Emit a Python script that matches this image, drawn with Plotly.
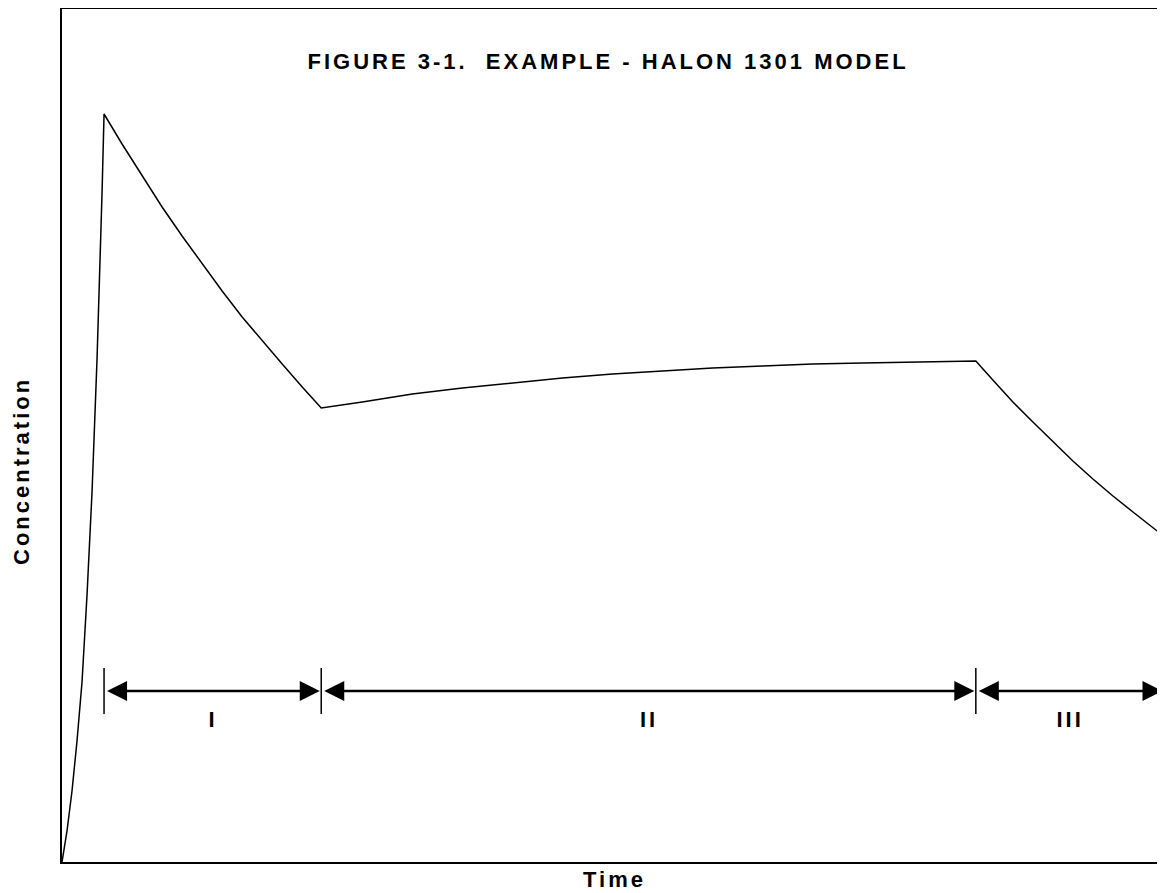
import plotly.graph_objects as go

# time (arbitrary units) and concentration (arbitrary units)
time = [0, 0.5, 1.0, 1.5, 2.0, 2.5, 3.0, 3.5, 4.0, 4.2,
        6, 8, 10, 12, 14, 16, 18, 20, 22, 24, 25.9,
        30, 35, 40, 45, 50, 55, 60, 65, 70, 75, 80, 85, 91.3,
        93, 95, 97, 99, 101, 103, 105, 107, 109, 110.3]
concentration = [0, 0.31, 0.71, 1.21, 1.80, 2.67, 3.70, 5.03, 6.69, 7.48,
                 7.18, 6.86, 6.55, 6.26, 5.98, 5.71, 5.45, 5.21, 4.98, 4.75, 4.54,
                 4.60, 4.68, 4.74, 4.79, 4.84, 4.88, 4.91, 4.94, 4.96, 4.98, 4.99, 5.00, 5.01,
                 4.82, 4.60, 4.40, 4.20, 4.01, 3.83, 3.66, 3.50, 3.34, 3.24]

phase_bounds = [4.2, 25.9, 91.3, 110.1]
phase_labels = ['I', 'II', 'III']
arrow_level = 1.71
label_level = 1.43
tick_half = 0.23

fig = go.Figure()
fig.add_trace(go.Scatter(x=time, y=concentration, mode='lines',
                         line=dict(color='black', width=1.5), hoverinfo='skip',
                         showlegend=False))

for i, lab in enumerate(phase_labels):
    x0, x1 = phase_bounds[i], phase_bounds[i + 1]
    fig.add_annotation(x=x1 - 0.15, y=arrow_level, ax=x0 + 0.15, ay=arrow_level,
                       xref='x', yref='y', axref='x', ayref='y', text='',
                       showarrow=True, arrowside='end+start', arrowhead=2,
                       startarrowhead=2, arrowsize=1.6, startarrowsize=1.6,
                       arrowwidth=2.5, arrowcolor='black')
    fig.add_annotation(x=(x0 + x1) / 2, y=label_level, text='<b>' + lab + '</b>',
                       showarrow=False, xanchor='center', yanchor='middle',
                       font=dict(size=22, color='black'))

for b in phase_bounds:
    fig.add_shape(type='line', x0=b, x1=b, y0=arrow_level - tick_half,
                  y1=arrow_level + tick_half, line=dict(color='black', width=1.5))

# title and axis titles as annotations so they sit where the original has them
fig.add_annotation(x=0.495, y=0.939, xref='paper', yref='paper',
                   text='<b>FIGURE 3-1.  EXAMPLE - HALON 1301 MODEL</b>',
                   xanchor='center', yanchor='middle',
                   showarrow=False, font=dict(size=22, color='black'))
fig.add_annotation(x=0.5, y=-0.02, xref='paper', yref='paper', text='<b>Time</b>',
                   xanchor='center', yanchor='middle',
                   showarrow=False, font=dict(size=22, color='black'))
fig.add_annotation(x=-0.037, y=0.458, xref='paper', yref='paper',
                   text='<b>Concentration</b>', textangle=-90,
                   xanchor='center', yanchor='middle',
                   showarrow=False, font=dict(size=22, color='black'))

fig.update_layout(
    width=1158, height=886,
    margin=dict(l=54, r=0, t=1, b=32),
    paper_bgcolor='white', plot_bgcolor='white',
    font=dict(family='Liberation Sans, Arial, sans-serif', color='black'),
)
fig.update_xaxes(range=[0, 110.3], showgrid=False, zeroline=False, showticklabels=False,
                 ticks='', showline=True, linecolor='black', linewidth=2, mirror=True)
fig.update_yaxes(range=[0, 8.53], showgrid=False, zeroline=False, showticklabels=False,
                 ticks='', showline=True, linecolor='black', linewidth=2)

# the original text is set with wide letter spacing
spacing_js = ("document.querySelectorAll('.annotation-text').forEach("
              "function(t){t.style.letterSpacing='3px';});")
fig.write_html("out.html", post_script=spacing_js)
